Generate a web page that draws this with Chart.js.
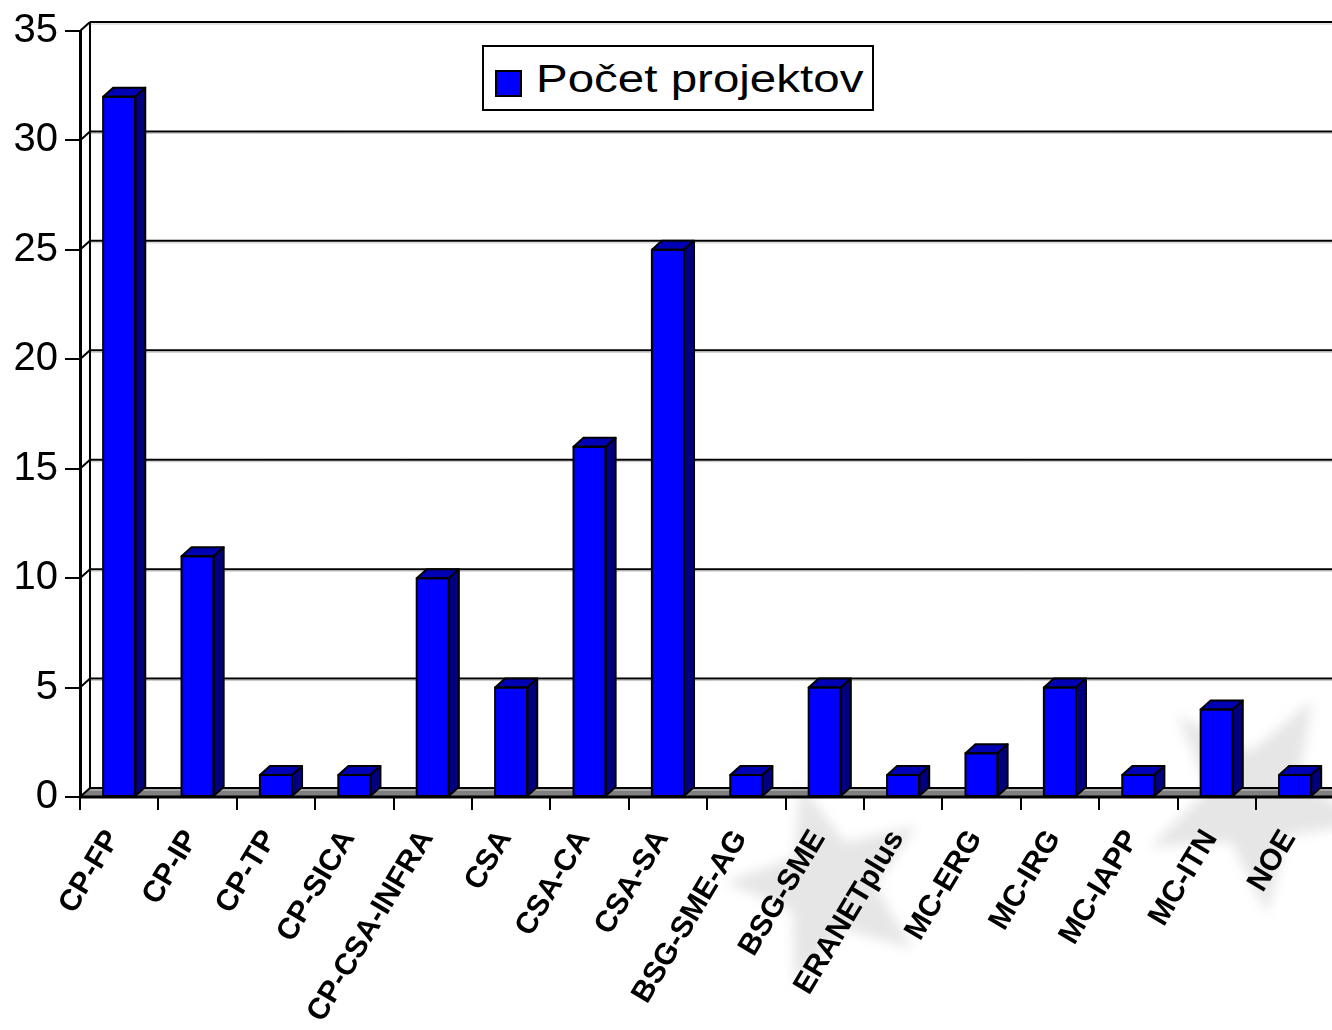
<!DOCTYPE html>
<html>
<head>
<meta charset="utf-8">
<script src="https://cdn.jsdelivr.net/npm/chart.js@4.4.1/dist/chart.umd.min.js"></script>
<style>
    html, body { margin: 0; padding: 0; background: #fff; overflow: hidden; }
    #wrap { position: relative; width: 1332px; height: 1030px; overflow: hidden; }
    #legend {
        position: absolute; left: 482px; top: 45px; width: 388px; height: 62px;
        border: 2px solid #000; background: #fff;
        font-family: "Liberation Sans", Arial, sans-serif; color: #000;
    }
    #legend .box {
        position: absolute; left: 11px; top: 23px; width: 23px; height: 23px;
        background: #0000ff; border: 2px solid #000;
    }
    #legend .txt {
        position: absolute; left: 52px; top: 13px; font-size: 38px; line-height: 38px;
        white-space: nowrap; transform: scaleX(1.25); transform-origin: left top;
    }
</style>
</head>
<body>
<div id="wrap">
    <canvas id="chart" width="1340" height="1030"></canvas>
    <div id="legend"><span class="box"></span><span class="txt" id="legendText"></span></div>
</div>
<script>
// datos del gráfico
const categories = ['CP-FP', 'CP-IP', 'CP-TP', 'CP-SICA', 'CP-CSA-INFRA', 'CSA', 'CSA-CA', 'CSA-SA',
    'BSG-SME-AG', 'BSG-SME', 'ERANETplus', 'MC-ERG', 'MC-IRG', 'MC-IAPP', 'MC-ITN', 'NOE'];
const projectCounts = [32, 11, 1, 1, 10, 5, 16, 25, 1, 5, 1, 2, 5, 1, 4, 1];
const seriesName = 'Počet projektov';
const yTicks = [0, 5, 10, 15, 20, 25, 30, 35];

const DX = 10, DY = 9;

// estrella de fondo (marca de agua)
function star(ctx, cx, cy, R, r, rot) {
    ctx.beginPath();
    for (let i = 0; i < 10; i++) {
        const rad = i % 2 === 0 ? R : r;
        const a = rot + i * Math.PI / 5;
        ctx.lineTo(cx + rad * Math.cos(a), cy + rad * Math.sin(a));
    }
    ctx.closePath();
    ctx.fill();
}

// efecto 3D: pared trasera, piso y caras de las barras
const depth3d = {
    id: 'depth3d',
    beforeDraw(chart) {
        const ctx = chart.ctx;
        ctx.save();
        ctx.filter = 'blur(6px)';
        ctx.fillStyle = 'rgba(200,200,200,0.45)';
        star(ctx, 830, 885, 105, 45, -0.6);
        star(ctx, 1255, 800, 115, 48, -1.05);
        ctx.restore();
    },
    beforeDatasetsDraw(chart) {
        const ctx = chart.ctx;
        const area = chart.chartArea;
        const y = chart.scales.y;
        const y0 = y.getPixelForValue(0);
        const right = chart.width + 20;
        ctx.save();
        // piso gris
        ctx.fillStyle = '#808080';
        ctx.beginPath();
        ctx.moveTo(area.left, y0);
        ctx.lineTo(right, y0);
        ctx.lineTo(right, y0 - DY);
        ctx.lineTo(area.left + DX, y0 - DY);
        ctx.closePath();
        ctx.fill();
        // líneas de la pared trasera
        yTicks.forEach(function(v) {
            const py = y.getPixelForValue(v);
            ctx.strokeStyle = '#c8c8c8';
            ctx.lineWidth = 1;
            ctx.beginPath();
            ctx.moveTo(area.left + DX, py - DY + 2);
            ctx.lineTo(right, py - DY + 2);
            ctx.stroke();
            ctx.strokeStyle = '#000';
            ctx.lineWidth = 2;
            ctx.beginPath();
            ctx.moveTo(area.left + DX, py - DY);
            ctx.lineTo(right, py - DY);
            ctx.stroke();
            ctx.beginPath();
            ctx.moveTo(area.left, py);
            ctx.lineTo(area.left + DX, py - DY);
            ctx.stroke();
        });
        ctx.strokeStyle = '#000';
        ctx.lineWidth = 2;
        ctx.beginPath();
        ctx.moveTo(area.left + DX, y.getPixelForValue(35) - DY);
        ctx.lineTo(area.left + DX, y0 - DY);
        ctx.stroke();
        // eje x frontal
        ctx.lineWidth = 3;
        ctx.beginPath();
        ctx.moveTo(area.left, y0);
        ctx.lineTo(right, y0);
        ctx.stroke();
        ctx.restore();
    },
    afterDatasetsDraw(chart) {
        const ctx = chart.ctx;
        const meta = chart.getDatasetMeta(0);
        ctx.save();
        ctx.strokeStyle = '#000';
        ctx.lineWidth = 2;
        ctx.lineJoin = 'round';
        meta.data.forEach(function(bar) {
            const p = bar.getProps(['x', 'y', 'base', 'width'], true);
            const l = p.x - p.width / 2, r = p.x + p.width / 2;
            // cara superior
            ctx.fillStyle = '#0000b4';
            ctx.beginPath();
            ctx.moveTo(l, p.y);
            ctx.lineTo(l + DX, p.y - DY);
            ctx.lineTo(r + DX, p.y - DY);
            ctx.lineTo(r, p.y);
            ctx.closePath();
            ctx.fill();
            ctx.stroke();
            // cara lateral
            ctx.fillStyle = '#000080';
            ctx.beginPath();
            ctx.moveTo(r, p.y);
            ctx.lineTo(r + DX, p.y - DY);
            ctx.lineTo(r + DX, p.base - DY);
            ctx.lineTo(r, p.base);
            ctx.closePath();
            ctx.fill();
            ctx.stroke();
            // borde frontal
            ctx.strokeRect(l, p.y, p.width, p.base - p.y);
        });
        ctx.restore();
    }
};

document.getElementById('legendText').textContent = seriesName;

const ctx = document.getElementById('chart').getContext('2d');
new Chart(ctx, {
    type: 'bar',
    data: {
        labels: categories,
        datasets: [{
            label: seriesName,
            data: projectCounts,
            backgroundColor: '#0000ff',
            borderColor: '#000',
            borderWidth: 0,
            barPercentage: 0.41,
            categoryPercentage: 1
        }]
    },
    options: {
        responsive: false,
        animation: false,
        devicePixelRatio: 1,
        layout: { padding: { top: 30, right: 1, left: 0, bottom: 0 } },
        plugins: {
            legend: { display: false },
            tooltip: { enabled: false }
        },
        scales: {
            x: {
                grid: {
                    offset: true,
                    drawOnChartArea: false,
                    drawTicks: true,
                    tickLength: 13,
                    color: '#000',
                    lineWidth: 2
                },
                border: { display: false },
                ticks: {
                    autoSkip: false,
                    minRotation: 59,
                    maxRotation: 59,
                    labelOffset: -6,
                    color: '#000',
                    padding: 14,
                    font: { family: '"Liberation Sans", Arial, sans-serif', size: 30, weight: 'bold' }
                },
                afterFit(scale) { scale.height = 233; }
            },
            y: {
                min: 0,
                max: 35,
                grid: {
                    drawOnChartArea: false,
                    drawTicks: true,
                    tickLength: 15,
                    color: '#000',
                    lineWidth: 2
                },
                border: { display: true, color: '#000', width: 3 },
                ticks: {
                    stepSize: 5,
                    color: '#000',
                    padding: 7,
                    font: { family: '"Liberation Sans", Arial, sans-serif', size: 40 }
                },
                afterFit(scale) { scale.width = 80; }
            }
        }
    },
    plugins: [depth3d]
});
</script>
</body>
</html>
